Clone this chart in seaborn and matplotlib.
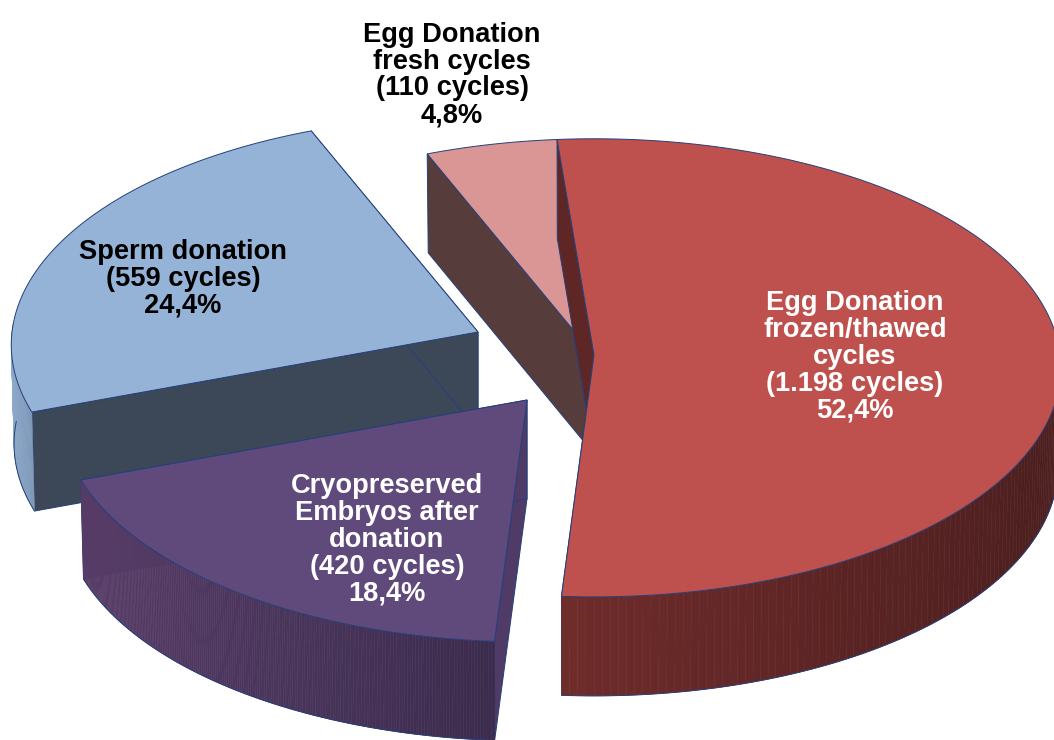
import numpy as np
import matplotlib
matplotlib.use("Agg")
import matplotlib.pyplot as plt
import seaborn as sns

# cycles per slice, clockwise from the top
names = ["Egg Donation\nfrozen/thawed\ncycles", "Cryopreserved\nEmbryos after\ndonation", "Sperm donation", "Egg Donation\nfresh cycles"]
cycles = [1198, 420, 559, 110]
cycle_labels = ["1.198", "420", "559", "110"]
percents = ["52,4%", "18,4%", "24,4%", "4,8%"]

top_colors = ["#BE504D", "#604A7B", "#95B3D7", "#D99694"]
radial_colors = ["#5E2624", "#4F3B66", "#3C4857", "#573C3C"]
wall_left = ["#6E2C2B", "#573C67", "#8DA8C9", "#573C3C"]
wall_right = ["#4B1E1E", "#3A2B4C", "#7B96B6", "#573C3C"]
text_colors = ["white", "white", "black", "black"]

# pie geometry in figure pixels
centers = [(594, 355), (527, 400), (478, 332), (594, 355)]
label_pos = [(855, 357), (387, 540), (183, 279), (452, 75)]
draw_order = [3, 0, 2, 1]
R = 466
squash = 0.49
persp = 0.056
depth = 99
lean = 0.006
start_angle = 94.8
edge = "#24407C"


def project(ang, c):
    u, v = np.cos(ang), np.sin(ang)
    w = 1 + persp * v
    return c[0] + R * u / w, c[1] - R * squash * v / w


def drop(x, y, c):
    return x + lean * (c[0] - x), y + depth


sns.set_theme(style="white")
plt.rcParams["font.family"] = ["Liberation Sans"]

fig = plt.figure(figsize=(10.54, 7.40), dpi=100)
ax = fig.add_axes([0, 0, 1, 1])
ax.set_xlim(0, 1054)
ax.set_ylim(740, 0)
ax.axis("off")

sweep = np.array(cycles) / sum(cycles) * 360
ends = start_angle - np.cumsum(sweep)
starts = ends + sweep

for i in draw_order:
    c = centers[i]
    th = np.radians(np.linspace(starts[i], ends[i], 200))
    x, y = project(th, c)
    bx, by = drop(x, y, c)
    apex_b = drop(c[0], c[1], c)

    # flat walls along both cut edges
    for k in [0, -1]:
        ax.fill([c[0], x[k], bx[k], apex_b[0]], [c[1], y[k], by[k], apex_b[1]],
                color=radial_colors[i], ec=edge, lw=0.7, zorder=1)

    # rounded outer wall, shaded left to right in small strips
    front = np.where(np.sin(th) < 0.05)[0]
    if len(front) > 1:
        shades = sns.blend_palette([wall_left[i], wall_right[i]], 24)
        lo, hi = x[front].min(), x[front].max()
        for a, b in zip(front[:-1], front[1:]):
            mid = (x[a] + x[b]) / 2
            col = shades[int(23 * (mid - lo) / (hi - lo))]
            ax.fill([x[a], x[b], bx[b], bx[a]], [y[a], y[b], by[b], by[a]],
                    color=col, ec=col, lw=0.4, zorder=1)
        ax.plot(bx[front], by[front], color=edge, lw=0.7, zorder=1)

    ax.fill(np.r_[c[0], x], np.r_[c[1], y], color=top_colors[i], ec=edge, lw=0.7, zorder=1)

for i in range(4):
    txt = "%s\n(%s cycles)\n%s" % (names[i], cycle_labels[i], percents[i])
    ax.text(label_pos[i][0], label_pos[i][1], txt, color=text_colors[i], fontsize=19.6,
            fontweight="bold", ha="center", va="center", linespacing=1.04, zorder=3)

fig.savefig("out.png", dpi=100)
